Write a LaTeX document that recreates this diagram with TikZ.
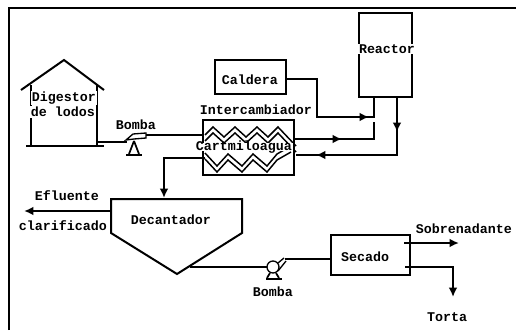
\documentclass[tikz,border=0pt]{standalone}
\usepackage{fontspec}
\setmainfont{Liberation Mono}
\usetikzlibrary{arrows.meta}

\begin{document}
\begin{tikzpicture}[x=0.75pt,y=-0.75pt,
      line width=1.3pt,
      equipo/.style={draw,minimum size=0pt,inner sep=0pt},
      etiqueta/.style={font=\bfseries\fontsize{10}{10}\selectfont,inner sep=0.5pt,fill=white},
      tubo/.style={line width=1.5pt},
      flujo/.style={tubo,-{Latex[length=7pt,width=6.5pt]}},
      zigzag/.style={line width=1.1pt,line join=miter}
     ]
\useasboundingbox (0,0) rectangle (521,332);

\coordinate (marcoA) at (9,330);
\coordinate (marcoB) at (9,8);
\coordinate (marcoC) at (516,8);
\draw (marcoA) -- (marcoB) -- (marcoC);

\coordinate (cumbrera) at (64,60);
\coordinate (aleroI) at (21,90);
\coordinate (aleroD) at (104,90);
\coordinate (sueloI) at (26,146);
\coordinate (sueloD) at (104,146);
\coordinate (muroI) at (31,146);
\coordinate (muroD) at (97,146);
\draw[line width=1.5pt] (aleroI) -- (cumbrera) -- (aleroD);
\draw[line width=1.5pt] (sueloI) -- (sueloD);
\draw (muroI) -- (31,85);
\draw (muroD) -- (97,85);

\node[equipo,minimum width=53.25pt,minimum height=25.5pt] (caldera) at (250.5,77) {};
\node[equipo,minimum width=39.75pt,minimum height=63pt] (reactor) at (385.5,55) {};
\node[equipo,minimum width=68.25pt,minimum height=41.25pt] (intercambiador) at (248.5,147.5) {};
\node[equipo,minimum width=59.25pt,minimum height=30pt] (secado) at (370.5,255) {};

\foreach \dy in {0,6}
  \draw[zigzag,shift={(0,\dy)}] (205,135) -- (213,127) -- (224,137) -- (235,127) -- (246,137)
    -- (257,127) -- (268,137) -- (278,127) -- (296,146);
\foreach \dy in {0,6}
  \draw[zigzag,shift={(0,\dy)}] (205,153) -- (217,166) -- (228,154) -- (242,166)
    -- (253,154) -- (267,166) -- (277,154) -- (291,146);

\coordinate (decA) at (111,199);
\coordinate (decB) at (242,199);
\coordinate (decC) at (242,233);
\coordinate (decD) at (177,274);
\coordinate (decE) at (111,233);
\draw[line width=1.5pt] (decA) -- (decB) -- (decC) -- (decD) -- (decE) -- cycle;

\coordinate (bombaB) at (273,267);
% bomba de lodos
\draw[line width=1pt] (126,140) -- (133,134) -- (146,133) -- (146,138) -- (134,139) -- cycle;
\draw (134,141) -- (129,154) (134,141) -- (139,154);
\draw[line width=1.6pt] (126,155) -- (142,155);
% bomba de clarificado
\draw[line width=1pt] (bombaB) circle (6);
\draw[line width=1pt] (278,263) -- (284,258) (278,271) -- (286,261);
\draw (270,273) -- (267,278) (276,273) -- (279,278);
\draw[line width=1.6pt] (266,279) -- (282,279);

\coordinate (salidaDig) at (97,142);
\coordinate (entraBomba) at (127,142);
\coordinate (saleBomba) at (146,135);
\coordinate (entraInter) at (203,135);
\draw[tubo] (salidaDig) -- (entraBomba);
\draw[tubo] (saleBomba) -- (entraInter);

\coordinate (codoA) at (317,79);
\coordinate (codoB) at (317,117);
\coordinate (puntaA) at (369,117);
\coordinate (nudoA) at (374,117);
\coordinate (baseA) at (374,97);
\draw[tubo] (caldera.east |- codoA) -- (codoA) -- (codoB) -- (nudoA) -- (baseA);
\draw[flujo] (codoB) -- (puntaA);

\coordinate (retorno) at (374,122);
\coordinate (retornoB) at (374,139);
\coordinate (puntaB) at (342,139);
\coordinate (saleInter) at (294,139);
\draw[tubo] (saleInter) -- (retornoB) -- (retorno);
\draw[flujo] (saleInter) -- (puntaB);

\coordinate (baseB) at (397,97);
\coordinate (puntaC) at (397,132);
\coordinate (codoC) at (397,155);
\coordinate (puntaD) at (316,155);
\coordinate (entraVuelta) at (296,155);
\draw[tubo] (baseB) -- (codoC) -- (entraVuelta);
\draw[flujo] (baseB) -- (puntaC);
\draw[flujo] (codoC) -- (puntaD);

\coordinate (saleFondo) at (205,158);
\coordinate (codoD) at (164,158);
\draw[flujo] (saleFondo) -- (codoD) -- (164,198);

\coordinate (salidaEfl) at (110,211);
\coordinate (puntaE) at (24,211);
\draw[flujo] (salidaEfl) -- (puntaE);

\coordinate (salidaDec) at (190,267);
\coordinate (entraB) at (267,267);
\coordinate (saleB) at (285,259);
\coordinate (entraSec) at (331,259);
\draw[tubo] (salidaDec) -- (entraB);
\draw[tubo] (saleB) -- (entraSec);

\coordinate (salidaSob) at (404,243);
\coordinate (puntaF) at (459,243);
\draw[flujo] (salidaSob) -- (puntaF);

\coordinate (salidaTor) at (405,267);
\coordinate (codoE) at (453,267);
\coordinate (puntaG) at (453,297);
\draw[flujo] (salidaTor) -- (codoE) -- (puntaG);

\node[etiqueta] (digestorA) at (64,98) {Digestor};
\node[etiqueta] (digestorB) at (63,112) {de lodos};
\node[etiqueta] (caldera-t) at (250,80) {Caldera};
\node[etiqueta] (reactor-t) at (387,49) {Reactor};
\node[etiqueta] (inter-t) at (256,110) {Intercambiador};
\node[etiqueta,text height=5.5pt,text depth=1pt,inner ysep=0pt] (agua-t) at (244,147) {Cartmiloagua};
\node[etiqueta] (bomba-a) at (136,125) {Bomba};
\node[etiqueta] (efluente) at (67,196) {Efluente};
\node[etiqueta] (clarificado) at (63,226) {clarificado};
\node[etiqueta] (decantador) at (171,220) {Decantador};
\node[etiqueta] (secado-t) at (365,257) {Secado};
\node[etiqueta] (bomba-b) at (273,292) {Bomba};
\node[etiqueta] (sobrenadante) at (464,229) {Sobrenadante};
\node[etiqueta] (torta) at (447,317) {Torta};
\end{tikzpicture}
\end{document}
